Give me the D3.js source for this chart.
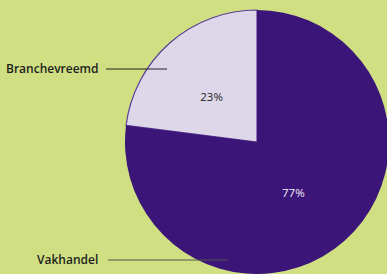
<!DOCTYPE html>
<html>
<head>
<meta charset="utf-8">
<script src="https://cdn.jsdelivr.net/npm/d3@7"></script>
<style>
  html, body { margin: 0; padding: 0; background: #cfdf82; overflow: hidden; }
  text { font-family: "Open Sans", "Noto Sans", sans-serif; }
</style>
</head>
<body>
<div id="chart"></div>
<script>
const categories = ['Branchevreemd', 'Vakhandel'];
const values = [23, 77];
const colors = ['#ded7ea', '#3b1577'];

const width = 387;
const height = 274;
const cx = 257;
const cy = 142;
const radius = 132;

const svg = d3.select('#chart')
  .append('svg')
  .attr('width', width)
  .attr('height', height);

svg.append('rect')
  .attr('width', width)
  .attr('height', height)
  .attr('fill', '#cfdf82');

const g = svg.append('g')
  .attr('transform', 'translate(' + cx + ',' + cy + ')');

// first slice runs counterclockwise from 12 o'clock
const pie = d3.pie()
  .sort(null)
  .startAngle(0)
  .endAngle(-2 * Math.PI)
  .value(d => d);

const arcs = pie(values);
const arc = d3.arc().innerRadius(0).outerRadius(radius);

g.selectAll('path')
  .data(arcs)
  .enter()
  .append('path')
  .attr('d', arc)
  .attr('fill', (d, i) => colors[i])
  .attr('stroke', (d, i) => i === 0 ? '#5b3d95' : 'none')
  .attr('stroke-width', 1.2);

// percentage labels
const labelArc = d3.arc().innerRadius(radius * 0.6).outerRadius(radius * 0.6);
const nudge = [[7, 14], [-16, -8]];
g.selectAll('.pct')
  .data(arcs)
  .enter()
  .append('text')
  .attr('class', 'pct')
  .attr('transform', (d, i) => {
    const c = labelArc.centroid(d);
    return 'translate(' + (c[0] + nudge[i][0]) + ',' + (c[1] + nudge[i][1]) + ')';
  })
  .attr('text-anchor', 'middle')
  .attr('dy', '0.35em')
  .attr('font-size', 11.5)
  .attr('fill', (d, i) => i === 0 ? '#222' : '#f2eef8')
  .text(d => d.data + '%');

// legend-style callouts
const callouts = [
  { x: 6, y: 69, x1: 106, x2: 167, stroke: '#222' },
  { x: 37, y: 260, x1: 108, x2: 228, stroke: '#555' }
];

callouts.forEach((c, i) => {
  svg.append('text')
    .attr('x', c.x)
    .attr('y', c.y)
    .attr('dy', '0.32em')
    .attr('font-size', 12)
    .attr('font-weight', 600)
    .attr('fill', '#1e1e1e')
    .text(categories[i]);
  svg.append('line')
    .attr('x1', c.x1)
    .attr('x2', c.x2)
    .attr('y1', c.y)
    .attr('y2', c.y)
    .attr('stroke', c.stroke)
    .attr('stroke-width', 1);
});
</script>
</body>
</html>
